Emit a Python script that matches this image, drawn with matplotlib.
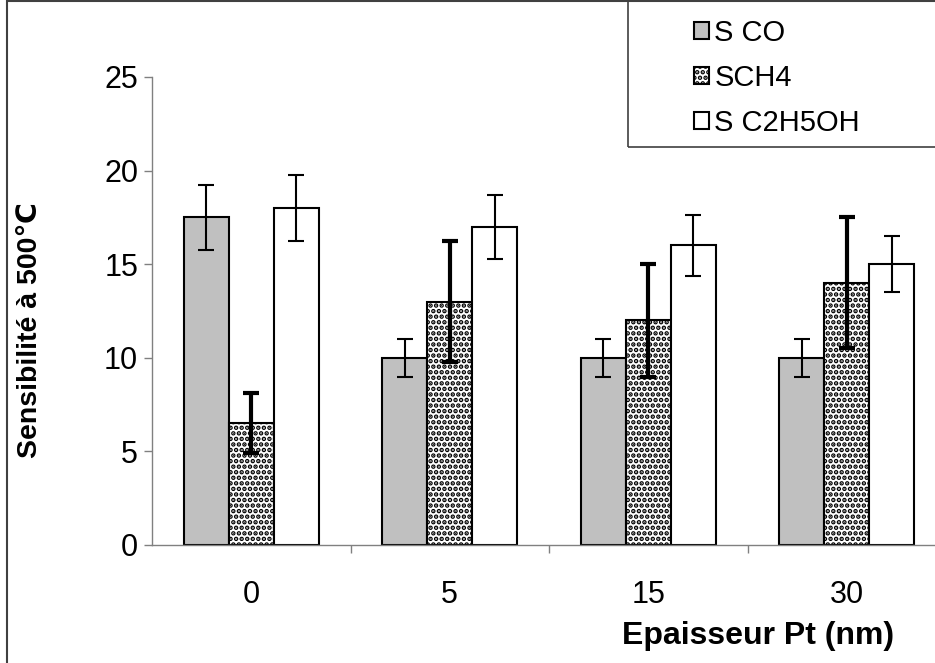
import matplotlib
matplotlib.use("Agg")
import matplotlib.pyplot as plt
from matplotlib.patches import Rectangle
import numpy as np

plt.rcParams['font.family'] = ['Liberation Sans', 'DejaVu Sans']
plt.rcParams['hatch.linewidth'] = 2.3

categories = ['0', '5', '15', '30']
series_names = ['S CO', 'SCH4', 'S C2H5OH']
s_co = [17.5, 10, 10, 10]
s_co_err = [1.75, 1.0, 1.0, 1.0]
s_ch4 = [6.5, 13, 12, 14]
s_ch4_err = [1.6, 3.25, 3.0, 3.5]
s_eth = [18, 17, 16, 15]
s_eth_err = [1.75, 1.7, 1.65, 1.5]
yticks = [0, 5, 10, 15, 20, 25]

W, H = 935, 663
fig = plt.figure(figsize=(W / 100, H / 100), dpi=100)
ax = fig.add_axes([152 / W, 1 - 545 / H, 794 / W, 468 / H])

x = np.arange(len(categories))
bw = 0.227
ax.bar(x - bw, s_co, bw, color='#c0c0c0', edgecolor='black', linewidth=1.5,
       label=series_names[0], zorder=2)
ax.bar(x, s_ch4, bw, color='white', edgecolor='black', hatch='...',
       linewidth=1.5, label=series_names[1], zorder=2)
ax.bar(x + bw, s_eth, bw, color='white', edgecolor='black', linewidth=1.5,
       label=series_names[2], zorder=2)

ax.errorbar(x - bw, s_co, yerr=s_co_err, fmt='none', ecolor='black',
            elinewidth=1.5, capsize=6, capthick=1.5, zorder=3)
ax.errorbar(x, s_ch4, yerr=s_ch4_err, fmt='none', ecolor='black',
            elinewidth=3, capsize=6, capthick=3, zorder=3)
ax.errorbar(x + bw, s_eth, yerr=s_eth_err, fmt='none', ecolor='black',
            elinewidth=1.5, capsize=6, capthick=1.5, zorder=3)

ax.set_xlim(-0.5, len(categories) - 0.5)
ax.set_ylim(0, 25)
ax.set_yticks(yticks)
ax.set_xticks(x)
ax.set_xticklabels(categories)
ax.set_xticks(x[:-1] + 0.5, minor=True)
ax.tick_params(axis='x', which='major', length=0, pad=25, labelsize=22)
ax.tick_params(axis='x', which='minor', length=6, color='#808080', width=1)
ax.tick_params(axis='y', length=6, color='#808080', width=1, pad=4, labelsize=22)
for s in ['top', 'right']:
    ax.spines[s].set_visible(False)
for s in ['left', 'bottom']:
    ax.spines[s].set_color('#808080')
    ax.spines[s].set_linewidth(1)
ax.patch.set_visible(False)

ax.set_ylabel('Sensibilité à 500℃', fontsize=20.5, fontweight='bold')
ax.yaxis.set_label_coords((43 - 152) / 794, (545 - 330) / 468)
ax.set_xlabel('Epaisseur Pt (nm)', fontsize=23, fontweight='bold')
ax.xaxis.set_label_coords((758 - 152) / 794, (545 - 621) / 468)

# outer frame of the chart area
fig.patches.append(Rectangle((7 / W, -0.05), 1.1, 1.05 - 1.5 / H, transform=fig.transFigure,
                             fill=False, edgecolor='#404040', linewidth=1.5, zorder=0))
# legend frame
fig.patches.append(Rectangle((628 / W, 1 - 147 / H), 1.0, 147 / H, transform=fig.transFigure,
                             fill=False, edgecolor='#404040', linewidth=1.2, zorder=5))
fig.legend(loc='upper left', bbox_to_anchor=(694 / W, 1 - 19 / H), frameon=False,
           fontsize=21, handlelength=0.5, handleheight=0.5, handletextpad=0.2,
           labelspacing=0.58, borderaxespad=0, borderpad=0)

fig.savefig('out.png', dpi=100)
